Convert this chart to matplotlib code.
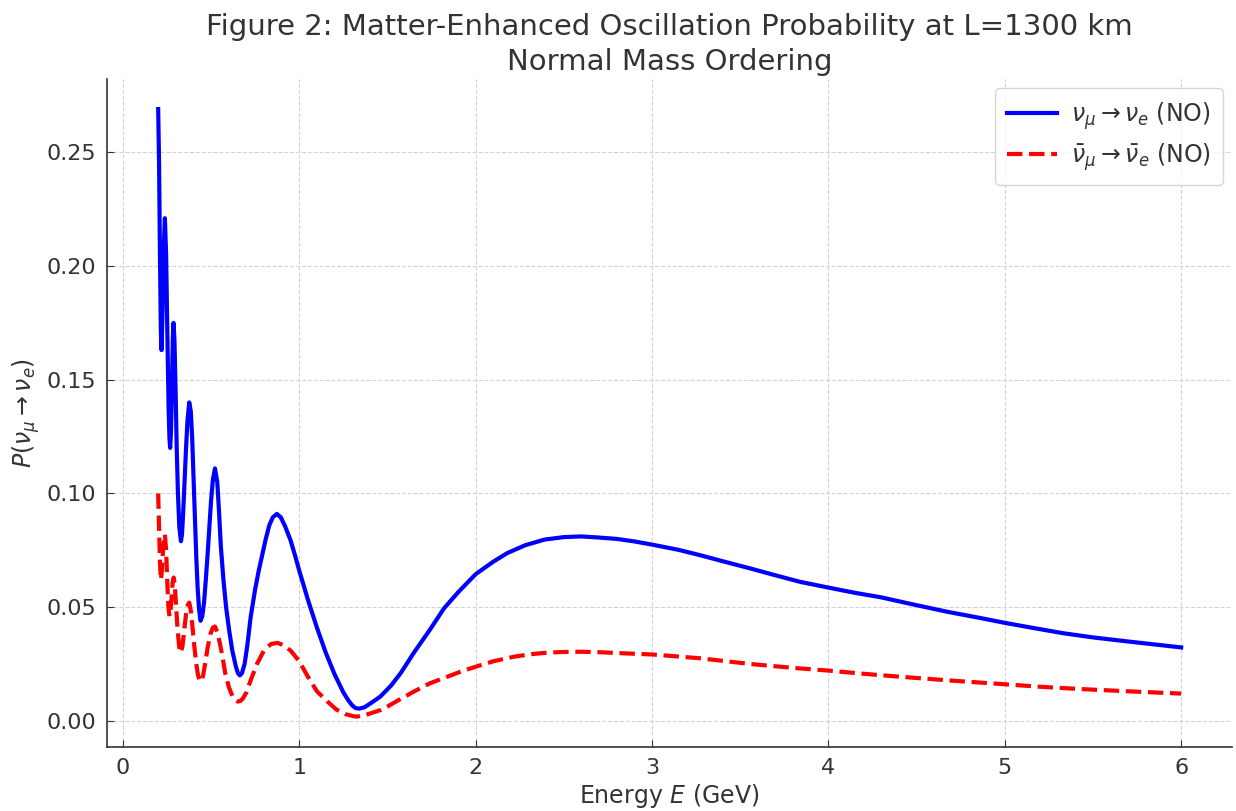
import matplotlib
matplotlib.use("Agg")
import matplotlib.pyplot as plt

# Energy (GeV) and probabilities
E_nu = [0.200, 0.205, 0.210, 0.215, 0.219, 0.224, 0.230, 0.238, 0.245, 0.252,
        0.259, 0.264, 0.268, 0.273, 0.278, 0.283, 0.287, 0.292, 0.298, 0.305,
        0.312, 0.320, 0.329, 0.335, 0.342, 0.350, 0.358, 0.366, 0.376, 0.385,
        0.393, 0.400, 0.408, 0.416, 0.424, 0.432, 0.440, 0.450, 0.460, 0.470,
        0.480, 0.490, 0.500, 0.510, 0.522, 0.535, 0.545, 0.555, 0.570, 0.585,
        0.602, 0.620, 0.640, 0.652, 0.663, 0.675, 0.690, 0.705, 0.725, 0.750,
        0.770, 0.790, 0.810, 0.830, 0.850, 0.873, 0.895, 0.920, 0.950, 0.975,
        1.000, 1.050, 1.100, 1.150, 1.200, 1.250, 1.280, 1.300, 1.320, 1.340,
        1.370, 1.400, 1.460, 1.520, 1.575, 1.650, 1.740, 1.820, 1.900, 2.000,
        2.100, 2.180, 2.280, 2.390, 2.500, 2.600, 2.700, 2.800, 2.900, 3.000,
        3.150, 3.275, 3.400, 3.558, 3.700, 3.841, 4.000, 4.150, 4.300, 4.450,
        4.672, 4.850, 5.000, 5.150, 5.334, 5.500, 5.711, 5.850, 6.000]
P_nu = [0.269, 0.245, 0.205, 0.172, 0.163, 0.178, 0.205, 0.221, 0.205, 0.170,
        0.138, 0.124, 0.120, 0.128, 0.148, 0.168, 0.175, 0.168, 0.148, 0.120,
        0.100, 0.085, 0.079, 0.082, 0.092, 0.106, 0.120, 0.132, 0.140, 0.136,
        0.124, 0.108, 0.090, 0.072, 0.058, 0.049, 0.044, 0.046, 0.052, 0.062,
        0.073, 0.085, 0.097, 0.106, 0.111, 0.105, 0.092, 0.077, 0.062, 0.050,
        0.040, 0.031, 0.024, 0.021, 0.020, 0.021, 0.025, 0.033, 0.046, 0.058,
        0.066, 0.073, 0.080, 0.086, 0.0895, 0.091, 0.0895, 0.0855, 0.0795, 0.073,
        0.066, 0.053, 0.041, 0.030, 0.0205, 0.0125, 0.0088, 0.0068, 0.0056, 0.0054,
        0.0060, 0.0075, 0.0107, 0.0155, 0.021, 0.030, 0.040, 0.0494, 0.0565, 0.0645,
        0.070, 0.0738, 0.0772, 0.0797, 0.0808, 0.0811, 0.0806, 0.0800, 0.0789, 0.0775,
        0.0752, 0.0728, 0.0702, 0.0670, 0.0640, 0.0611, 0.0586, 0.0563, 0.0543, 0.0517,
        0.0480, 0.0454, 0.0431, 0.0410, 0.0385, 0.0367, 0.0348, 0.0336, 0.0323]

E_nubar = [0.200, 0.205, 0.210, 0.215, 0.220, 0.228, 0.238, 0.245, 0.252, 0.258,
           0.264, 0.268, 0.275, 0.282, 0.288, 0.294, 0.302, 0.310, 0.320, 0.329,
           0.338, 0.348, 0.358, 0.368, 0.376, 0.386, 0.396, 0.406, 0.416, 0.426,
           0.436, 0.445, 0.455, 0.468, 0.480, 0.495, 0.510, 0.522, 0.535, 0.550,
           0.565, 0.580, 0.600, 0.620, 0.635, 0.650, 0.665, 0.680, 0.700, 0.725,
           0.760, 0.800, 0.840, 0.876, 0.910, 0.952, 1.000, 1.046, 1.100, 1.160,
           1.210, 1.260, 1.310, 1.330, 1.380, 1.462, 1.500, 1.560, 1.650, 1.740,
           1.839, 1.920, 2.000, 2.100, 2.217, 2.310, 2.406, 2.500, 2.595, 2.700,
           2.840, 3.000, 3.150, 3.275, 3.400, 3.558, 3.800, 4.002, 4.200, 4.408,
           4.700, 5.000, 5.200, 5.428, 5.700, 6.000]
P_nubar = [0.100, 0.085, 0.070, 0.062, 0.065, 0.076, 0.082, 0.075, 0.060, 0.050,
           0.046, 0.047, 0.053, 0.061, 0.063, 0.060, 0.050, 0.040, 0.032, 0.030,
           0.033, 0.040, 0.047, 0.051, 0.052, 0.048, 0.040, 0.032, 0.025, 0.020,
           0.0175, 0.0175, 0.020, 0.026, 0.032, 0.038, 0.041, 0.0415, 0.039, 0.034,
           0.028, 0.021, 0.015, 0.011, 0.0093, 0.0085, 0.0087, 0.0098, 0.0125, 0.018,
           0.025, 0.031, 0.0338, 0.0343, 0.0333, 0.0308, 0.0262, 0.0198, 0.013, 0.0085,
           0.0050, 0.0030, 0.0020, 0.0019, 0.0027, 0.0048, 0.0063, 0.0090, 0.0129, 0.0165,
           0.0194, 0.0218, 0.0238, 0.0262, 0.0282, 0.0293, 0.0300, 0.0303, 0.0304, 0.0302,
           0.0297, 0.0292, 0.0283, 0.0275, 0.0264, 0.0250, 0.0233, 0.0221, 0.0207, 0.0194,
           0.0177, 0.0161, 0.0150, 0.0140, 0.0130, 0.0120]

label_nu = r"$\nu_\mu \rightarrow \nu_e$ (NO)"
label_nubar = r"$\bar{\nu}_\mu \rightarrow \bar{\nu}_e$ (NO)"
title = "Figure 2: Matter-Enhanced Oscillation Probability at L=1300 km\nNormal Mass Ordering"
xlabel = "Energy $E$ (GeV)"
ylabel = r"$P(\nu_\mu \rightarrow \nu_e)$"

txt = "#333333"
plt.rcParams["font.family"] = ["DejaVu Sans"]
plt.rcParams["mathtext.fontset"] = "dejavusans"

fig = plt.figure(figsize=(12.36, 8.11), dpi=100)
ax = fig.add_axes([0.0866, 0.079, 0.9104, 0.824])

ax.plot(E_nu, P_nu, color="blue", lw=3, label=label_nu)
ax.plot(E_nubar, P_nubar, color="red", lw=3, ls="--", label=label_nubar)

ax.grid(True, ls="--", color="#d4d4d4", lw=0.8)
ax.set_axisbelow(True)
for s in ["top", "right"]:
    ax.spines[s].set_visible(False)
for s in ["left", "bottom"]:
    ax.spines[s].set_color(txt)
    ax.spines[s].set_linewidth(1.2)

ax.tick_params(direction="in", length=5, labelsize=16, colors=txt, pad=8)
ax.set_xticks([0, 1, 2, 3, 4, 5, 6])
ax.set_yticks([0.00, 0.05, 0.10, 0.15, 0.20, 0.25])

ax.set_title(title, fontsize=21, color=txt, pad=6, linespacing=1.35)
ax.set_xlabel(xlabel, fontsize=17, color=txt, labelpad=3)
ax.set_ylabel(ylabel, fontsize=17, color=txt, labelpad=3)

leg = ax.legend(loc="upper right", fontsize=17, frameon=True, fancybox=True,
                edgecolor="#cccccc", handlelength=2.1, handletextpad=0.6,
                labelspacing=0.4, borderpad=0.5, borderaxespad=0.4)
for t in leg.get_texts():
    t.set_color(txt)

fig.savefig("out.png", dpi=100)
